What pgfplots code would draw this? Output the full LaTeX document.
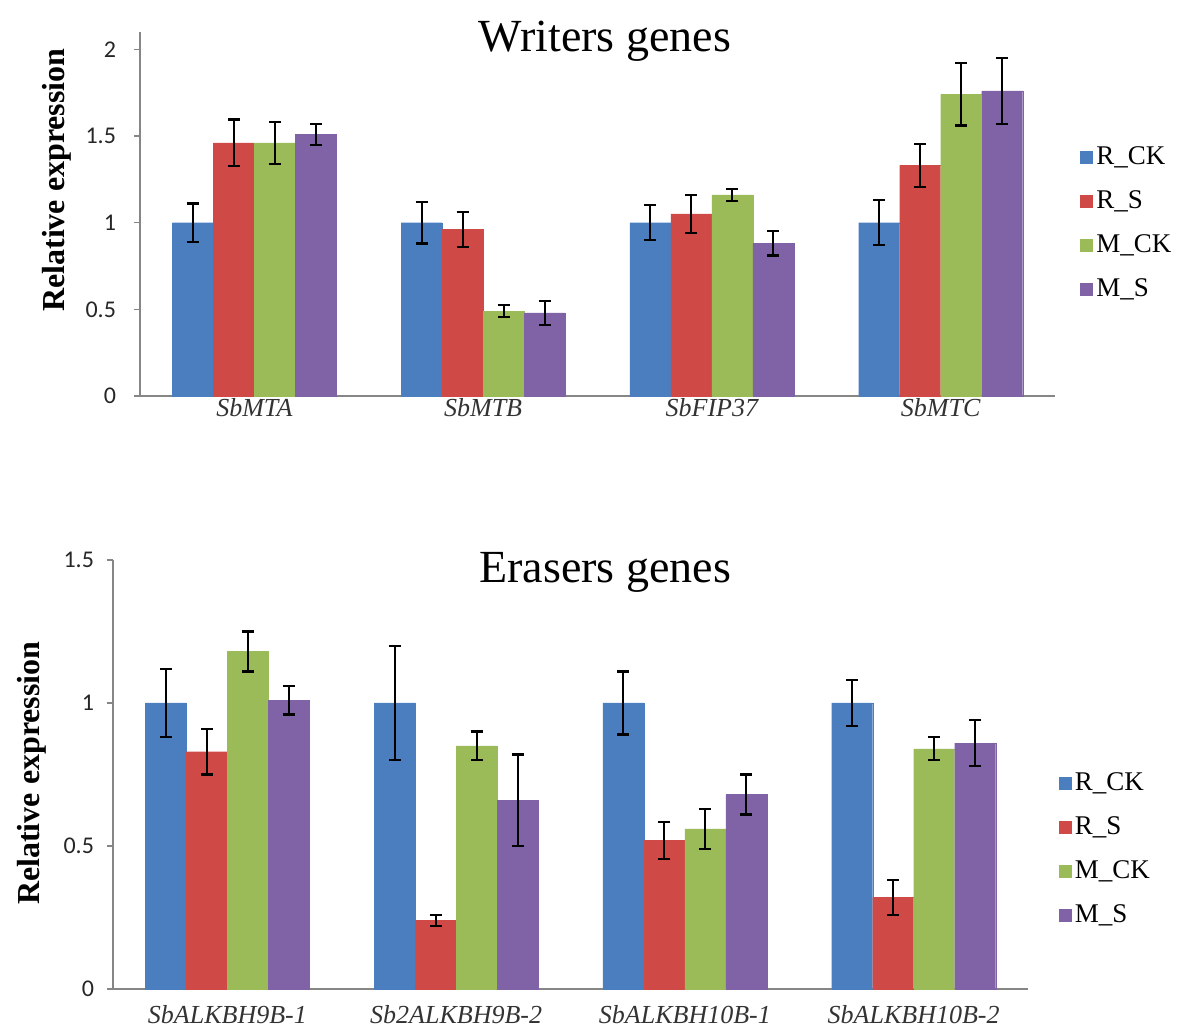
\documentclass[border=0pt]{standalone}
\usepackage{fontspec}
\setmainfont{Liberation Serif}
\newfontfamily\calibri{Carlito}
\usepackage{pgfplots}
\usepackage{pgfplotstable}
\pgfplotsset{compat=1.18}
\definecolor{cB}{HTML}{4A7EBF}
\definecolor{cR}{HTML}{CF4A46}
\definecolor{cG}{HTML}{9BBB59}
\definecolor{cP}{HTML}{7F63A6}
\definecolor{axgray}{HTML}{868686}

\pgfplotstableread{
x rck rcke rs rse mck mcke ms mse
0 1.00 0.11 1.46 0.135 1.46 0.12 1.51 0.06
1 1.00 0.12 0.96 0.10 0.49 0.035 0.48 0.07
2 1.00 0.10 1.05 0.11 1.16 0.035 0.88 0.07
3 1.00 0.13 1.33 0.125 1.74 0.18 1.76 0.19
}\writers

\pgfplotstableread{
x rck rcke rs rse mck mcke ms mse
0 1.00 0.12 0.83 0.08 1.18 0.07 1.01 0.05
1 1.00 0.20 0.24 0.02 0.85 0.05 0.66 0.16
2 1.00 0.11 0.52 0.065 0.56 0.07 0.68 0.07
3 1.00 0.08 0.32 0.06 0.84 0.04 0.86 0.08
}\erasers

\pgfplotsset{
  mybars/.style={
    ybar=0pt, bar width=20.5pt,
    scale only axis, width=457.5pt,
    xmin=-0.5, xmax=3.5, ymin=0,
    clip=false,
    xtick={0,1,2,3},
    x tick style={draw=none},
    axis x line*=bottom, axis y line*=left,
    axis line style={axgray, line width=1pt},
    y tick style={axgray, line width=0.8pt},
    ytick align=outside, major tick length=3pt,
    yticklabel style={font=\calibri\fontsize{12}{14}\selectfont, text=black!85},
    xticklabel style={font=\itshape\fontsize{13}{15}\selectfont, text=black!80},
    ylabel={Relative expression},
    legend image code/.code={\fill[#1] (0pt,-3pt) rectangle (6pt,3pt);},
    legend style={draw=none, fill=none, font=\rmfamily\fontsize{13.5}{15}\selectfont, row sep=7.5pt, inner sep=0pt, cells={anchor=west}},
    error bars/y dir=both, error bars/y explicit,
    error bars/error bar style={draw=black, line width=0.9pt},
    error bars/error mark=-,
    error bars/error mark options={rotate=90, draw=black, mark size=3pt, line width=1.1pt},
    every axis plot/.append style={line width=0.1pt},
  }
}

\begin{document}
\begin{tikzpicture}[x=1pt,y=1pt]
\useasboundingbox (0,0) rectangle (591,518);
% Top axis
\begin{axis}[mybars,
  at={(70pt,320pt)}, anchor=south west,
  height=182pt, ymax=2.1,
  ytick={0,0.5,1,1.5,2}, yticklabels={0,0.5,1,1.5,2},
  yticklabel style={xshift=-5.5pt},
  xticklabels={SbMTA,SbMTB,SbFIP37,SbMTC},
  xticklabel style={yshift=5.5pt},
  ylabel style={at={(axis description cs:-0.0907,0.593)}, anchor=center, font=\bfseries\fontsize{16}{19}\selectfont},
  legend style={at={(1.027,0.475)}, anchor=west},
]
\addplot[fill=cB, draw=cB] table[x=x, y=rck, y error=rcke] {\writers};
\addplot[fill=cR, draw=cR] table[x=x, y=rs, y error=rse] {\writers};
\addplot[fill=cG, draw=cG] table[x=x, y=mck, y error=mcke] {\writers};
\addplot[fill=cP, draw=cP] table[x=x, y=ms, y error=mse] {\writers};
\legend{R\_CK, R\_S, M\_CK, M\_S}
\node[font=\fontsize{23}{26}\selectfont] at (rel axis cs:0.508,0.975) {Writers genes};
\end{axis}
% Bottom axis
\begin{axis}[mybars,
  at={(56.5pt,23.5pt)}, anchor=south west,
  height=214.5pt, ymax=1.5,
  ytick={0,0.5,1,1.5}, yticklabels={0,0.5,1,1.5},
  yticklabel style={xshift=-3pt},
  xticklabels={SbALKBH9B-1,Sb2ALKBH9B-2,SbALKBH10B-1,SbALKBH10B-2},
  xticklabel style={yshift=-1.5pt},
  ylabel style={at={(axis description cs:-0.0885,0.503)}, anchor=center, font=\bfseries\fontsize{16}{19}\selectfont},
  legend style={at={(1.033,0.326)}, anchor=west},
]
\addplot[fill=cB, draw=cB] table[x=x, y=rck, y error=rcke] {\erasers};
\addplot[fill=cR, draw=cR] table[x=x, y=rs, y error=rse] {\erasers};
\addplot[fill=cG, draw=cG] table[x=x, y=mck, y error=mcke] {\erasers};
\addplot[fill=cP, draw=cP] table[x=x, y=ms, y error=mse] {\erasers};
\legend{R\_CK, R\_S, M\_CK, M\_S}
\node[font=\fontsize{23}{26}\selectfont] at (rel axis cs:0.538,0.972) {Erasers genes};
\end{axis}
\end{tikzpicture}
\end{document}
